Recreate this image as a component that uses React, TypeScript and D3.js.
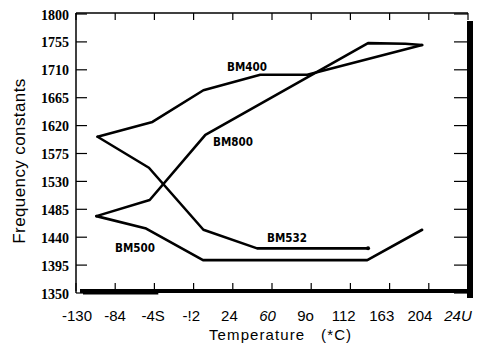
import React from "react";
import * as d3 from "d3";

const xTickLabels = ["-130", "-84", "-4S", "-!2", "24", "60", "9o", "112", "163", "204", "24U"];
const xTickItalic = [false, false, false, false, false, true, false, false, false, false, true];
const yTicks = [1800, 1755, 1710, 1665, 1620, 1575, 1530, 1485, 1440, 1395, 1350];

const bm400X = [0.55, 1.95, 3.25, 4.7, 5.9, 8.83];
const bm400Y = [1602, 1626, 1677, 1702, 1702, 1750];
const bm800X = [0.52, 1.88, 3.3, 7.45, 8.4, 8.83];
const bm800Y = [1474, 1500, 1605, 1753, 1752, 1750];
const bm532X = [0.55, 1.86, 3.25, 4.62, 7.45];
const bm532Y = [1602, 1552, 1452, 1422, 1422];
const bm500X = [0.52, 1.79, 3.24, 7.43, 8.83];
const bm500Y = [1474, 1454, 1403, 1403, 1452];

const seriesNames = ["BM400", "BM800", "BM532", "BM500"];

export default function App() {
  const W = 477, H = 347;
  const x = d3.scaleLinear().domain([0, 10]).range([76, 468]);
  const y = d3.scaleLinear().domain([1350, 1800]).range([293, 14]);
  const line = d3.line<[number, number]>().x(d => x(d[0])).y(d => y(d[1]));
  const zip = (xs: number[], ys: number[]) => xs.map((v, i) => [v, ys[i]] as [number, number]);
  const series = [zip(bm400X, bm400Y), zip(bm800X, bm800Y), zip(bm532X, bm532Y), zip(bm500X, bm500Y)];
  const labelPos = [
    { x: 227, y: 71 },
    { x: 213, y: 146 },
    { x: 267, y: 242 },
    { x: 115, y: 252 },
  ];
  const xt = d3.range(0, 11);
  return (
    <svg width={W} height={H} style={{ position: "absolute", left: 0, top: 0, background: "#fff" }}>
      {/* frame */}
      <line x1={x(0)} x2={x(10)} y1={13} y2={13} stroke="#000" strokeWidth={1.5} />
      <line x1={x(0)} x2={x(0)} y1={13} y2={293} stroke="#000" strokeWidth={1.5} />
      <line x1={x(0) + 4} x2={x(10) + 3} y1={291} y2={291} stroke="#000" strokeWidth={4} />
      <line x1={x(0) + 7} x2={x(2.1)} y1={293} y2={293} stroke="#000" strokeWidth={3} />
      <line x1={470} x2={470} y1={21} y2={298} stroke="#000" strokeWidth={6} />
      {/* x ticks */}
      {xt.map(i => (
        <g key={"xt" + i}>
          <line x1={x(i)} x2={x(i)} y1={13} y2={20} stroke="#000" strokeWidth={1.2} />
          <line x1={x(i)} x2={x(i)} y1={291} y2={283} stroke="#000" strokeWidth={1.2} />
          <text x={x(i) + 1 - i * 1.1} y={321} textAnchor="middle" fontFamily="'Liberation Sans', Arial, sans-serif" fontSize={15}
            fontStyle={xTickItalic[i] ? "italic" : "normal"} fill="#000">{xTickLabels[i]}</text>
        </g>
      ))}
      {/* y ticks */}
      {yTicks.map(v => (
        <g key={"yt" + v}>
          <line x1={x(0)} x2={x(0) + 11} y1={y(v)} y2={y(v)} stroke="#000" strokeWidth={1.2} />
          <line x1={454} x2={468} y1={y(v)} y2={y(v)} stroke="#000" strokeWidth={1.2} />
          <text x={69} y={y(v) + 5.5} textAnchor="end" fontFamily="'Liberation Serif', 'DejaVu Serif', serif" fontWeight="bold" fontSize={14} fill="#000">{v}</text>
        </g>
      ))}
      {/* series */}
      {series.map((s, i) => (
        <path key={"s" + i} d={line(s) || ""} fill="none" stroke="#000" strokeWidth={2.6} strokeLinejoin="round" strokeLinecap="round" />
      ))}
      <circle cx={x(bm532X[bm532X.length - 1])} cy={y(bm532Y[bm532Y.length - 1])} r={2} fill="#000" />
      {seriesNames.map((n, i) => (
        <text key={n} x={labelPos[i].x} y={labelPos[i].y} fontFamily="'DejaVu Sans Condensed', sans-serif" fontWeight="bold"
          fontSize={12.5} textLength={40} lengthAdjust="spacingAndGlyphs" fill="#000">{n}</text>
      ))}
      {/* axis titles */}
      <text x={209} y={340} fontFamily="'Liberation Sans', Arial, sans-serif" fontSize={15} letterSpacing={1.1} fill="#000"
        style={{ whiteSpace: "pre" }}>{"Temperature   (*C)"}</text>
      <text transform={`translate(25,161) rotate(-90)`} textAnchor="middle" fontFamily="'Liberation Sans', Arial, sans-serif"
        fontSize={17} letterSpacing={0.4} fill="#000">Frequency constants</text>
    </svg>
  );
}
